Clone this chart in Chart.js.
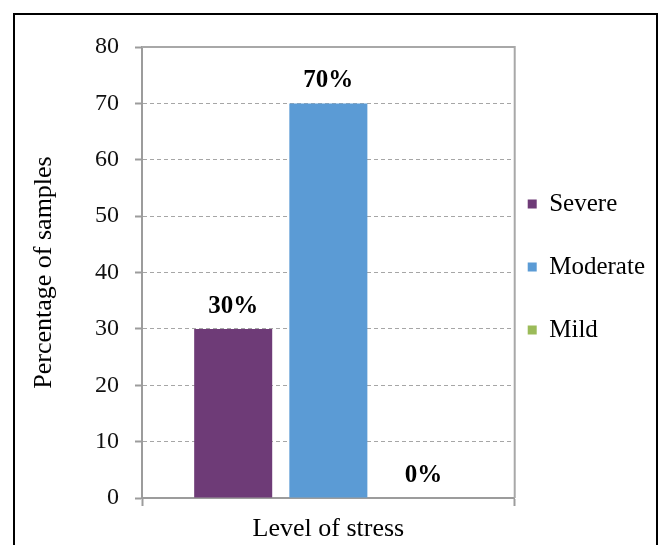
<!DOCTYPE html>
<html>
<head>
<meta charset="utf-8">
<script src="https://cdn.jsdelivr.net/npm/chart.js@4"></script>
<style>
  html, body { margin: 0; padding: 0; background: #fff; overflow: hidden; }
  #frame {
    position: absolute;
    left: 13px;
    top: 13px;
    width: 641px;
    height: 560px;
    border: 2px solid #000;
  }
  #box { position: relative; width: 641px; height: 545px; }
</style>
</head>
<body>
<div id="frame">
  <div id="box"><canvas id="stressChart"></canvas></div>
</div>
<script>
const categories = ["Level of stress"];
const seriesNames = ["Severe", "Moderate", "Mild"];
const severe = [30];
const moderate = [70];
const mild = [0];
const yMin = 0;
const yMax = 80;
const yStep = 10;

const axisGray = "#9c9c9c";
const serif = "'Liberation Serif', 'Times New Roman', serif";

Chart.defaults.font.family = serif;
Chart.defaults.color = "#000";

// value labels above each bar, e.g. "30%"
const barValueLabels = {
  id: "barValueLabels",
  afterDatasetsDraw(chart) {
    const ctx = chart.ctx;
    ctx.save();
    ctx.font = "bold 25px " + serif;
    ctx.fillStyle = "#000";
    ctx.textAlign = "center";
    ctx.textBaseline = "alphabetic";
    chart.data.datasets.forEach(function (ds, i) {
      chart.getDatasetMeta(i).data.forEach(function (bar, j) {
        ctx.fillText(ds.data[j] + "%", bar.x, bar.y - 16);
      });
    });
    ctx.restore();
  },
};

// solid top and right edge of the plot area
const plotFrame = {
  id: "plotFrame",
  beforeDatasetsDraw(chart) {
    const { ctx, chartArea: a } = chart;
    ctx.save();
    ctx.strokeStyle = "#a8a8a8";
    ctx.lineWidth = 2;
    ctx.beginPath();
    ctx.moveTo(a.left, a.top);
    ctx.lineTo(a.right, a.top);
    ctx.lineTo(a.right, a.bottom);
    ctx.stroke();
    ctx.restore();
  },
};

const ctx = document.getElementById("stressChart").getContext("2d");

new Chart(ctx, {
  type: "bar",
  data: {
    labels: categories,
    datasets: [
      { label: seriesNames[0], data: severe, backgroundColor: "#6e3b77" },
      { label: seriesNames[1], data: moderate, backgroundColor: "#5b9bd5" },
      { label: seriesNames[2], data: mild, backgroundColor: "#9bbb59" },
    ],
  },
  options: {
    responsive: true,
    maintainAspectRatio: false,
    animation: false,
    categoryPercentage: 0.766,
    barPercentage: 0.82,
    layout: {
      padding: { left: 0, top: 32, right: 1, bottom: 12 },
    },
    scales: {
      x: {
        afterFit: function (scale) {
          scale.height = 50;
        },
        ticks: {
          padding: 8,
          color: "#000",
          font: { family: serif, size: 26 },
        },
        grid: {
          drawOnChartArea: false,
          drawTicks: true,
          tickLength: 8,
          tickWidth: 2,
          tickColor: axisGray,
        },
        border: { color: axisGray, width: 2 },
      },
      y: {
        min: yMin,
        max: yMax,
        afterFit: function (scale) {
          scale.width = 127;
        },
        ticks: {
          stepSize: yStep,
          padding: 16,
          color: "#111",
          font: { family: serif, size: 24 },
        },
        grid: {
          color: "#a6a6a6",
          lineWidth: 1,
          tickLength: 7,
          tickWidth: 2,
          tickColor: axisGray,
        },
        border: { color: axisGray, width: 2, dash: [4, 3] },
        title: {
          display: true,
          text: "Percentage of samples",
          color: "#000",
          font: { family: serif, size: 26 },
          padding: { top: 14, bottom: 0 },
        },
      },
    },
    plugins: {
      legend: {
        position: "right",
        fullSize: false,
        title: { display: true, text: "", padding: 0, font: { family: serif, size: 14, lineHeight: 1 } },
        labels: {
          boxWidth: 9,
          boxHeight: 9,
          padding: 13,
          color: "#000",
          font: { family: serif, size: 25, lineHeight: 2 },
          generateLabels: function (chart) {
            return Chart.defaults.plugins.legend.labels.generateLabels(chart).map(function (item) {
              item.text = [item.text];
              item.lineWidth = 0;
              return item;
            });
          },
        },
      },
      tooltip: { enabled: false },
    },
  },
  plugins: [plotFrame, barValueLabels],
});
</script>
</body>
</html>
